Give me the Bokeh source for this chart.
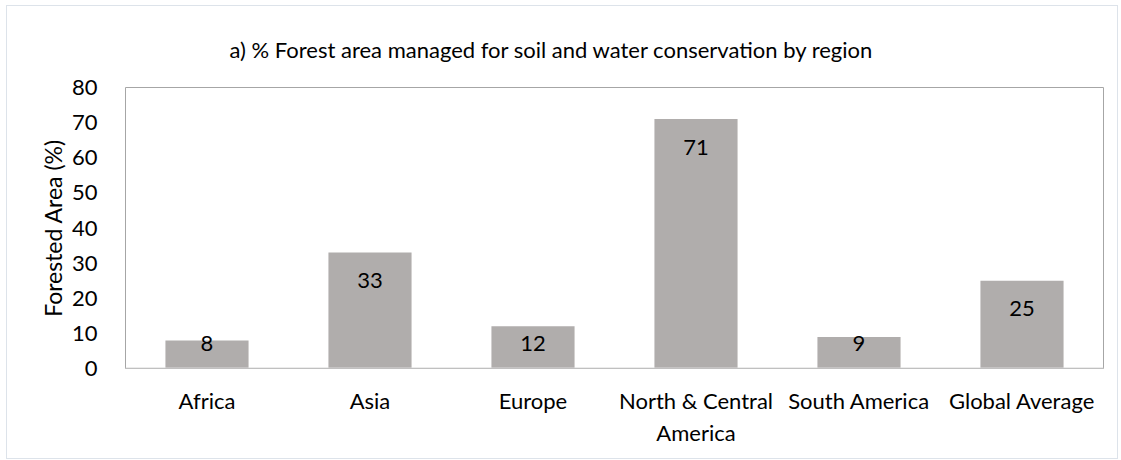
from bokeh.plotting import figure
from bokeh.models import Range1d, ColumnDataSource, FixedTicker, Span
from bokeh.core.properties import value
from bokeh.embed import file_html
from bokeh.resources import INLINE
import numpy as np

regions = ["Africa", "Asia", "Europe", "North & Central\nAmerica", "South America", "Global Average"]
percent = [8, 33, 12, 71, 9, 25]
title_text = "a) % Forest area managed for soil and water conservation by region"
y_label = "Forested Area (%)"

FONT = "Lato"
FS = "22px"

label_y = list(np.maximum(np.array(percent) - 8.0, 7.0))
src = ColumnDataSource(dict(x=regions, top=percent, ly=label_y, txt=[str(v) for v in percent]))

p = figure(x_range=regions, y_range=Range1d(0, 80), frame_width=978, frame_height=281,
           output_backend="svg", toolbar_location=None, tools="",
           min_border_left=118, min_border_right=14, min_border_top=81, min_border_bottom=90,
           title=title_text)
p.styles = {"border": "1px solid #dde3ea", "margin-left": "6px", "margin-top": "5px"}
p.outline_line_color = "#a6a6a6"
p.grid.grid_line_color = None
p.background_fill_color = "white"
p.border_fill_color = "white"

p.title.align = "left"
p.title.offset = 104
p.title.text_font = FONT
p.title.text_font_size = FS
p.title.text_font_style = "normal"
p.title.text_color = "#000000"
p.title.standoff = 50

p.vbar(x="x", top="top", width=0.51, source=src, color="#b0adac", line_color=None)
p.text(x="x", y="ly", text="txt", source=src, text_align="center", text_baseline="middle",
       text_font=value(FONT), text_font_size=FS, text_color="#000000")

p.add_layout(Span(location=0, dimension="width", line_color="#d9d9d9", line_width=2))

xa = p.xaxis[0]
xa.axis_line_color = None
xa.major_tick_line_color = None
xa.minor_tick_line_color = None
xa.major_label_text_font = FONT
xa.major_label_text_font_size = FS
xa.major_label_text_color = "#000000"
xa.major_label_standoff = 12

ya = p.yaxis[0]
ya.ticker = FixedTicker(ticks=[0, 10, 20, 30, 40, 50, 60, 70, 80])
ya.axis_line_color = None
ya.major_tick_line_color = None
ya.minor_tick_line_color = None
ya.major_label_text_font = FONT
ya.major_label_text_font_size = FS
ya.major_label_text_color = "#000000"
ya.major_label_standoff = 22
ya.axis_label = y_label
ya.axis_label_text_font = FONT
ya.axis_label_text_font_size = "23px"
ya.axis_label_text_font_style = "normal"
ya.axis_label_text_color = "#000000"
ya.axis_label_standoff = 2

open("out.html", "w").write(file_html(p, INLINE))
